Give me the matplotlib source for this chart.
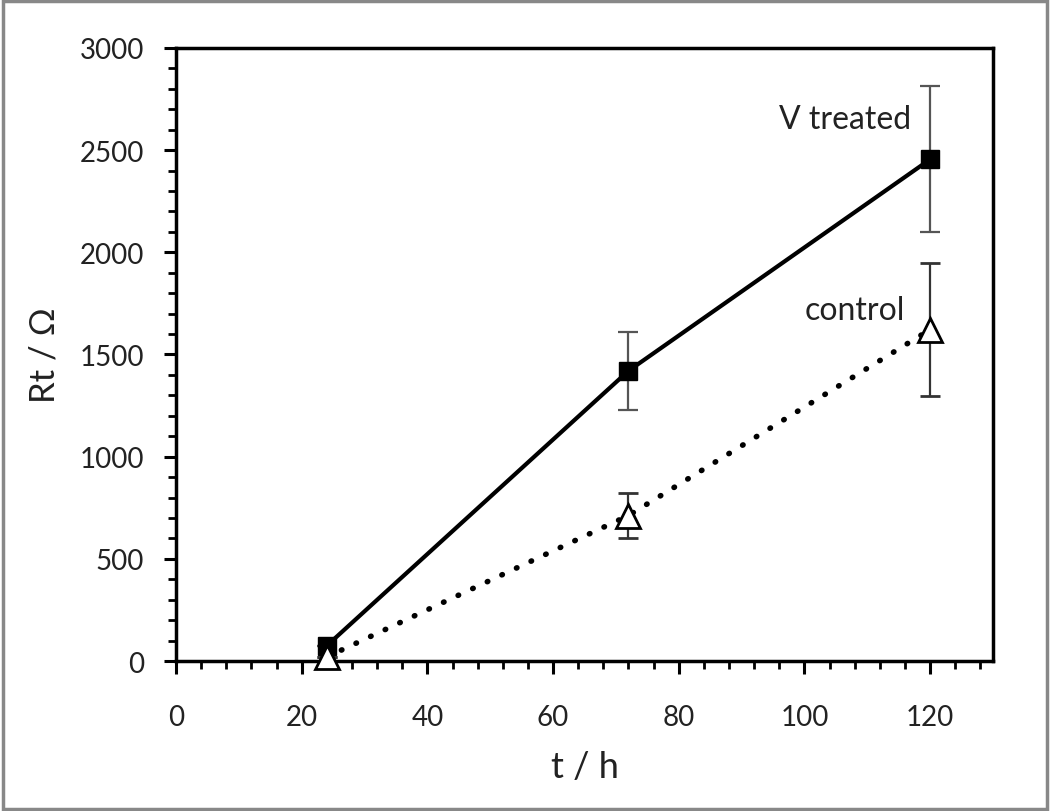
import matplotlib
matplotlib.use("Agg")
import matplotlib.pyplot as plt
from matplotlib.patches import Rectangle
from matplotlib.ticker import MultipleLocator

plt.rcParams['font.family'] = ['Lato', 'DejaVu Sans']

time_h = [24, 72, 120]
treated = [75, 1420, 2455]
treated_err = [0, 190, 358]
control = [20, 712, 1622]
control_err = [0, 108, 324]

fig = plt.figure(figsize=(10.5, 8.12), dpi=100)
ax = fig.add_axes([0.1676, 0.1847, 0.7781, 0.755])

ax.errorbar(time_h, treated, yerr=treated_err, color='black', lw=3,
            marker='s', ms=13, mfc='black', mec='black',
            ecolor='#555555', elinewidth=1.6, capsize=7, capthick=1.6, zorder=3)
eb = ax.errorbar(time_h, control, yerr=control_err, color='black', lw=4,
                 linestyle=(0, (0.1, 2.8)), dash_capstyle='round',
                 marker='^', ms=17, mfc='white', mec='black', mew=2,
                 ecolor='#333333', elinewidth=1.6, capsize=7, capthick=1.6, zorder=4)
eb[0].set_clip_on(False)

ax.set_xlim(0, 130)
ax.set_ylim(0, 3000)
ax.xaxis.set_major_locator(MultipleLocator(20))
ax.xaxis.set_minor_locator(MultipleLocator(4))
ax.yaxis.set_major_locator(MultipleLocator(500))
ax.yaxis.set_minor_locator(MultipleLocator(100))
ax.set_xticks([0, 20, 40, 60, 80, 100, 120])
ax.tick_params(axis='both', which='major', direction='out', length=9, width=2.2,
               labelsize=20, colors='black', labelcolor='#222222')
ax.tick_params(axis='x', which='major', pad=22)
ax.tick_params(axis='y', which='major', pad=14)
ax.tick_params(axis='both', which='minor', direction='out', length=6, width=2)
for s in ax.spines.values():
    s.set_linewidth(2.5)

ax.set_xlabel('t / h', fontsize=26, labelpad=14, color='#222222')
ax.set_ylabel('Rt / Ω', fontsize=25, labelpad=14, color='#222222')

ax.text(117, 2650, 'V treated', fontsize=23, ha='right', va='center', color='#222222')
ax.text(116, 1720, 'control', fontsize=23, ha='right', va='center', color='#222222')

fig.patches.append(Rectangle((0.003, 0.003), 0.994, 0.994, transform=fig.transFigure,
                             fill=False, edgecolor='#888888', lw=2.5))

fig.savefig('out.png', dpi=100)
